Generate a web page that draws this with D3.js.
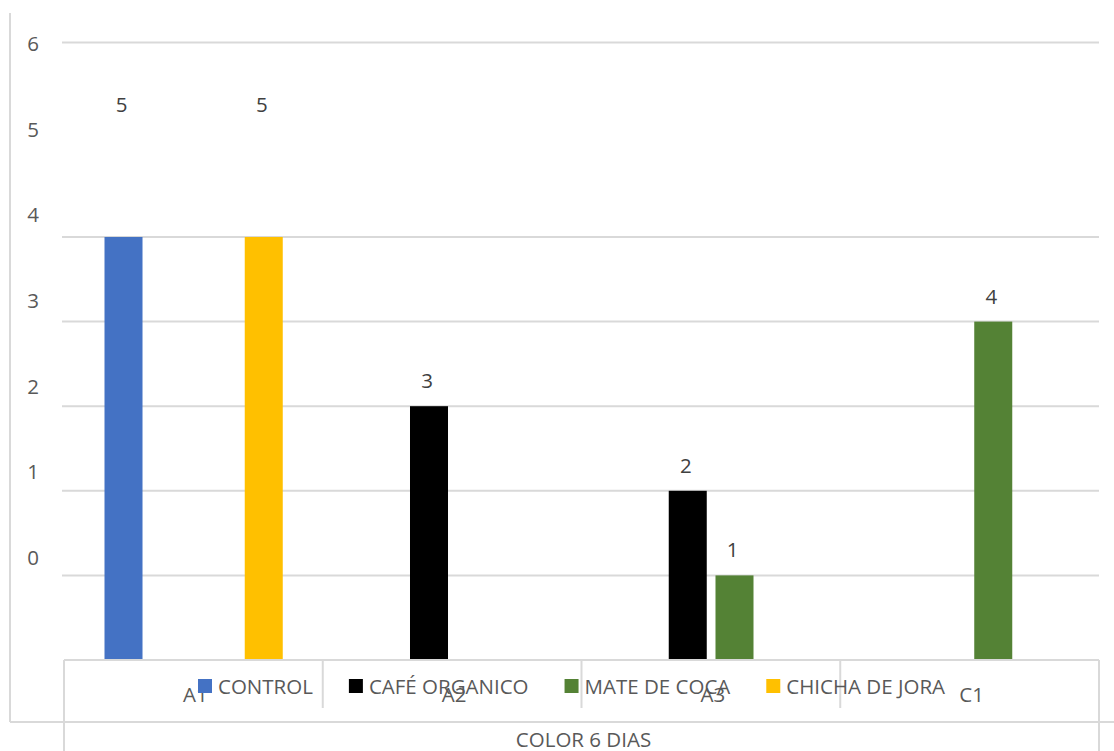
<!DOCTYPE html>
<html>
<head>
<meta charset="utf-8">
<script src="https://cdn.jsdelivr.net/npm/d3@7"></script>
<style>
  html, body { margin: 0; padding: 0; background: #ffffff; }
  svg { display: block; font-family: "Open Sans", "Noto Sans", sans-serif; }
</style>
</head>
<body>
<svg id="chart" width="1114" height="751"></svg>
<script>
// Categories along the x axis and the group title under them
const categories = ["A1", "A2", "A3", "C1"];
const groupTitle = "COLOR 6 DIAS";

// Series names and their values per category (null = no bar)
const seriesNames = ["CONTROL", "CAFÉ ORGANICO", "MATE DE COCA", "CHICHA DE JORA"];
const controlValues = [5, null, null, null];
const cafeValues    = [null, 3, 2, null];
const mateValues    = [null, null, 1, 4];
const chichaValues  = [5, null, null, null];

// Value-axis tick labels
const tickValues = [0, 1, 2, 3, 4, 5, 6];
// Gridline values
const gridValues = [1, 2, 3, 4, 5];

const colors = ["#4472C4", "#000000", "#548235", "#FFC000"];
const seriesValues = [controlValues, cafeValues, mateValues, chichaValues];

const svg = d3.select("#chart");
const W = 1114, H = 751;
const plot = { left: 64, right: 1099, top: 42.4, bottom: 660 };
const gridColor = "#d9d9d9";
const textColor = "#595959";
const fontSize = 20.5;

// Scales
const y = d3.scaleLinear().domain([0, 7.3]).range([plot.bottom, plot.top]);
const tickY = d3.scaleLinear().domain([0, 6]).range([557, 43]);
const x0 = d3.scaleBand().domain(categories).range([plot.left, plot.right]).padding(0);
const x1 = d3.scaleBand().domain(seriesNames).range([40.5, 218.75]).paddingInner(0.187).paddingOuter(0);

// Outer chart border (left and bottom)
svg.append("line").attr("x1", 10).attr("x2", 10).attr("y1", 13).attr("y2", 722)
  .attr("stroke", gridColor).attr("stroke-width", 2);
svg.append("line").attr("x1", 10).attr("x2", W).attr("y1", 722).attr("y2", 722)
  .attr("stroke", gridColor).attr("stroke-width", 2);

// Gridlines
svg.append("g").selectAll("line").data(gridValues.concat([7.3])).join("line")
  .attr("x1", 62).attr("x2", plot.right)
  .attr("y1", d => y(d)).attr("y2", d => y(d))
  .attr("stroke", gridColor).attr("stroke-width", 2);

// Value-axis labels
svg.append("g").selectAll("text").data(tickValues).join("text")
  .attr("x", 33).attr("y", d => tickY(d))
  .attr("text-anchor", "middle").attr("dominant-baseline", "central")
  .attr("font-size", fontSize).attr("fill", textColor)
  .text(d => d);

// Bars
const barData = [];
seriesNames.forEach((s, si) => {
  categories.forEach((c, ci) => {
    const v = seriesValues[si][ci];
    if (v != null) barData.push({ series: s, category: c, value: v, color: colors[si] });
  });
});

svg.append("g").selectAll("rect").data(barData).join("rect")
  .attr("x", d => x0(d.category) + x1(d.series))
  .attr("width", x1.bandwidth())
  .attr("y", d => y(d.value))
  .attr("height", d => y(0) - y(d.value))
  .attr("fill", d => d.color);

// Data labels
const maxVal = d3.max(barData, d => d.value);
svg.append("g").selectAll("text").data(barData).join("text")
  .attr("x", d => x0(d.category) + x1(d.series) + x1.bandwidth() / 2 - 2)
  .attr("y", d => d.value === maxVal ? y(d.value) - 133 : y(d.value) - 26)
  .attr("text-anchor", "middle").attr("dominant-baseline", "central")
  .attr("font-size", fontSize).attr("fill", "#404040")
  .text(d => d.value);

// Category axis box
const axis = svg.append("g").attr("stroke", gridColor).attr("stroke-width", 2);
axis.append("line").attr("x1", plot.left).attr("x2", plot.right)
  .attr("y1", plot.bottom).attr("y2", plot.bottom);
categories.forEach((c, i) => {
  const xx = x0(c);
  axis.append("line").attr("x1", xx).attr("x2", xx)
    .attr("y1", plot.bottom).attr("y2", i === 0 ? H : 708);
});
axis.append("line").attr("x1", plot.right).attr("x2", plot.right)
  .attr("y1", plot.bottom).attr("y2", H);

// Category labels
svg.append("g").selectAll("text").data(categories).join("text")
  .attr("x", d => x0(d) + x0.bandwidth() / 2 + 2)
  .attr("y", 694)
  .attr("text-anchor", "middle").attr("dominant-baseline", "central")
  .attr("font-size", fontSize).attr("fill", textColor)
  .text(d => d);

// Group title
svg.append("text")
  .attr("x", (plot.left + plot.right) / 2 + 2).attr("y", 739)
  .attr("text-anchor", "middle").attr("dominant-baseline", "central")
  .attr("font-size", fontSize).attr("fill", textColor)
  .text(groupTitle);

// Legend
const legend = svg.append("g");
let lx = 198;
seriesNames.forEach((s, i) => {
  legend.append("rect").attr("x", lx).attr("y", 679).attr("width", 14).attr("height", 14)
    .attr("fill", colors[i]);
  const t = legend.append("text").attr("x", lx + 20).attr("y", 686)
    .attr("dominant-baseline", "central")
    .attr("font-size", fontSize).attr("fill", textColor).text(s);
  lx += 20 + t.node().getComputedTextLength() + 36;
});
</script>
</body>
</html>
